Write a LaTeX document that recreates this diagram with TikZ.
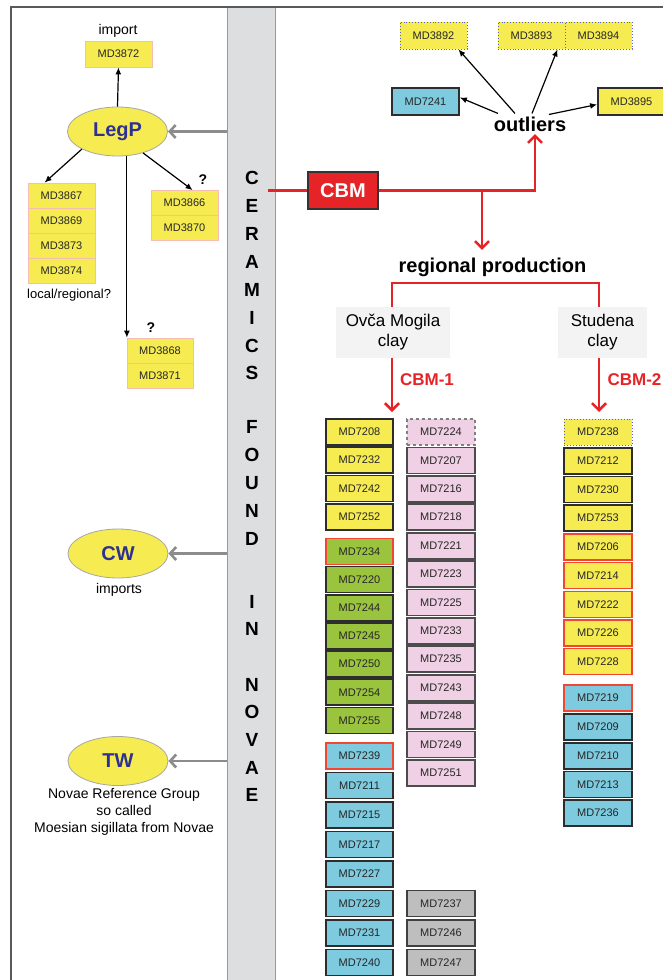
\documentclass[tikz,border=0pt]{standalone}
\usepackage{fontspec}
\setmainfont{Liberation Sans}
\usetikzlibrary{arrows.meta,shapes.geometric,calc}
\definecolor{myyellow}{RGB}{246,236,82}
\definecolor{mypink}{RGB}{240,208,228}
\definecolor{mygreen}{RGB}{155,196,62}
\definecolor{myblue}{RGB}{126,202,222}
\definecolor{mygray}{RGB}{190,190,190}
\definecolor{stripgray}{RGB}{221,222,224}
\definecolor{myred}{RGB}{230,36,40}
\definecolor{navy}{RGB}{46,49,146}
\definecolor{darkline}{RGB}{45,45,45}
\definecolor{pinkline}{RGB}{245,190,180}
\definecolor{redborder}{RGB}{240,70,50}
\definecolor{dotblue}{RGB}{90,100,200}
\definecolor{framegray}{RGB}{90,90,90}
\definecolor{arrowgray}{RGB}{140,140,140}
\definecolor{clayfill}{RGB}{243,243,243}
\begin{document}
\begin{tikzpicture}[x=1pt,y=-1pt]
\tikzset{
  md/.style={rectangle, minimum width=67pt, minimum height=26pt, inner sep=0pt,
    font=\fontsize{11}{13}\selectfont, text=black!85},
  ybox/.style={md, fill=myyellow},
  gbox/.style={md, fill=mygreen},
  bbox/.style={md, fill=myblue},
  pbox/.style={md, fill=mypink, minimum width=68pt, draw=black!70, line width=1.8pt},
  graybox/.style={md, fill=mygray, minimum width=68pt, draw=black!75, line width=1.8pt},
  dk/.style={draw=darkline, line width=1.8pt},
  rb/.style={draw=redborder, line width=1.4pt},
  pk/.style={draw=pinkline, line width=0.8pt},
  dotb/.style={draw=dotblue, dotted, line width=0.9pt},
  dsh/.style={draw=gray, dashed, line width=1.2pt},
  ell/.style={ellipse, fill=myyellow, draw=gray!70, line width=0.8pt,
    minimum width=100pt, minimum height=49pt, inner sep=0pt,
    font=\bfseries\fontsize{20}{22}\selectfont, text=navy},
  stripletter/.style={inner sep=0pt, font=\bfseries\fontsize{19}{20}\selectfont},
  lbl/.style={inner sep=0pt, font=\fontsize{14}{17}\selectfont, align=center},
  qm/.style={inner sep=0pt, font=\bfseries\fontsize{14}{16}\selectfont},
  blkarr/.style={draw=black, line width=1.2pt, -{Latex[length=7pt,width=6pt]}},
  grayarr/.style={draw=arrowgray, line width=2.6pt, -{Straight Barb[length=6pt,width=13pt]}},
  redl/.style={draw=myred, line width=2.6pt},
  redarr/.style={redl, -{Straight Barb[length=7pt,width=14pt]}},
  clay/.style={rectangle, fill=clayfill, minimum width=114pt, minimum height=51pt,
    inner sep=0pt, align=center, font=\fontsize{17}{20}\selectfont},
  cbmlab/.style={inner sep=0pt, text=myred, font=\bfseries\fontsize{17}{19}\selectfont},
}
\useasboundingbox (0,0) rectangle (662,980);
\fill[white] (0,0) rectangle (662,980);

% strip
\node[fill=stripgray, draw=gray!80, line width=1pt, minimum width=48pt,
  minimum height=1000pt, inner sep=0pt, anchor=north] (strip) at (251,7) {};
\foreach \l/\yy [count=\i] in {C/178,E/206,R/234,A/262,M/290,I/318,C/346,S/373,
  F/427,O/455,U/483,N/511,D/539,I/602,N/629,N/685,O/712,V/740,A/768,E/795}
  \node[stripletter] (L\i) at (252,\yy) {\l};

% frame
\draw[framegray, line width=1.5pt] (11,7) rectangle (720,1020);

% LegP group
\node[lbl] (imp) at (118,31) {import};
\node[ybox,pk] (b3872) at (118.5,54) {MD3872};
\node[ell] (legp) at (117.5,131.5) {LegP};
\node[ybox,pk,minimum height=25pt] (b3867) at (61.5,195.5) {MD3867};
\node[ybox,pk,minimum height=25pt] (b3869) at (61.5,220.5) {MD3869};
\node[ybox,pk,minimum height=25pt] (b3873) at (61.5,245.5) {MD3873};
\node[ybox,pk,minimum height=25pt] (b3874) at (61.5,270.5) {MD3874};
\node[inner sep=0pt, anchor=west, font=\fontsize{13}{15}\selectfont] (locreg) at (27,295) {local/regional?};
\node[ybox,pk,minimum height=25pt] (b3866) at (184.5,203) {MD3866};
\node[ybox,pk,minimum height=25pt] (b3870) at (184.5,228) {MD3870};
\node[qm] (q1) at (203,180) {?};
\node[ybox,pk,minimum height=25pt,minimum width=66pt] (b3868) at (160,350.5) {MD3868};
\node[ybox,pk,minimum height=25pt,minimum width=66pt] (b3871) at (160,375.5) {MD3871};
\node[qm] (q2) at (151,328) {?};

\draw[blkarr] (legp.north) -- (b3872.south);
\draw[blkarr] (legp.south west) -- ([xshift=17pt]b3867.north west);
\draw[blkarr] (legp.-40) -- ([xshift=42pt]b3866.north west);
\draw[blkarr] (legp.-69) -- (legp.-69 |- b3868.north);
\draw[grayarr] (strip.west |- legp.east) -- (legp.east);

% CW, TW
\node[ell] (cw) at (118,553.5) {CW};
\node[lbl] (cwl) at (119,590) {imports};
\draw[grayarr] (strip.west |- cw.east) -- (cw.east);
\node[ell] (tw) at (118,761) {TW};
\node[lbl] (twl) at (124,812) {Novae Reference Group\\so called\\Moesian sigillata from Novae};
\draw[grayarr] (strip.west |- tw.east) -- (tw.east);

% outliers
\node[ybox,dotb,minimum height=27pt] (b3892) at (433.5,35.5) {MD3892};
\node[ybox,dotb,minimum height=27pt] (b3893) at (531.5,35.5) {MD3893};
\node[ybox,dotb,minimum height=27pt] (b3894) at (598.5,35.5) {MD3894};
\node[bbox,dk,minimum height=27pt] (b7241) at (425.5,101.5) {MD7241};
\node[ybox,dk,minimum height=27pt] (b3895) at (631.5,101.5) {MD3895};
\node[inner sep=0pt, font=\bfseries\fontsize{20}{22}\selectfont] (outl) at (530,124) {outliers};
\draw[blkarr] ([xshift=-15pt,yshift=3pt]outl.north) -- ([xshift=-9pt]b3892.south east);
\draw[blkarr] ([xshift=2pt,yshift=3pt]outl.north) -- ([xshift=-8pt]b3893.south east);
\draw[blkarr] ([xshift=-32pt,yshift=3pt]outl.north) -- ([yshift=4pt]b7241.east);
\draw[blkarr] ([xshift=19pt,yshift=2pt]outl.north) -- ([yshift=-3pt]b3895.west);

% CBM
\coordinate (cstart) at (268,190.5);
\node[rectangle, fill=myred, draw=black!80, line width=1.2pt, minimum width=70pt,
  minimum height=37pt, inner sep=0pt, text=white,
  font=\bfseries\fontsize{20}{22}\selectfont] (cbm) at (343,190.5) {CBM};
\draw[redl] (cstart) -- (cbm.west);
\draw[redarr] (cbm.east) -| ([xshift=5pt,yshift=-2.5pt]outl.south);
\coordinate (jn) at (482,190.5);
\node[inner sep=0pt, font=\bfseries\fontsize{20}{22}\selectfont] (regp) at (492.5,267.5) {regional production};
\draw[redarr] (jn) -- ($(regp.north -| jn)+(0,-8)$);

\node[clay] (ovca) at (393,332.5) {Ovča Mogila\\clay};
\node[clay, minimum width=89pt] (stud) at (602.5,332.5) {Studena\\clay};
\draw[redl] ([xshift=-1pt]ovca.north) -- ++(0,-24) -| ([xshift=-3.5pt]stud.north);
\coordinate (t1) at (392,412);
\coordinate (t2) at (599,412);
\draw[redarr] ([xshift=-1pt]ovca.south) -- (t1);
\draw[redarr] ([xshift=-3.5pt]stud.south) -- (t2);
\node[cbmlab] (cbm1) at (427,380) {CBM-1};
\node[cbmlab] (cbm2) at (634.5,380) {CBM-2};

% column A
\foreach \n/\yy in {7208/432,7232/460.2,7242/488.4,7252/516.6}
  \node[ybox,dk] (b\n) at (359.5,\yy) {MD\n};
\node[gbox,rb] (b7234) at (359.5,551.3) {MD7234};
\foreach \n/\yy in {7220/579.5,7244/607.7,7245/635.9,7250/664.1,7254/692.3,7255/720.5}
  \node[gbox,dk] (b\n) at (359.5,\yy) {MD\n};
\node[bbox,rb] (b7239) at (359.5,756) {MD7239};
\foreach \n/\yy in {7211/785.5,7215/815,7217/844.5,7227/874,7229/903.5,7231/933,7240/962.5}
  \node[bbox,dk] (b\n) at (359.5,\yy) {MD\n};

% column B
\node[md, fill=mypink, minimum width=68pt, dsh] (b7224) at (441,432) {MD7224};
\foreach \n/\yy in {7207/460.4,7216/488.8,7218/517.2,7221/545.6,7223/574,7225/602.4,
  7233/630.8,7235/659.2,7243/687.6,7248/716,7249/744.4,7251/772.8}
  \node[pbox] (b\n) at (441,\yy) {MD\n};
\foreach \n/\yy in {7237/903.5,7246/933,7247/962.5}
  \node[graybox] (b\n) at (441,\yy) {MD\n};

% column C
\node[ybox,dotb,minimum width=68pt] (b7238) at (598,432) {MD7238};
\foreach \n/\yy in {7212/460.7,7230/489.4,7253/518.1}
  \node[ybox,dk,minimum width=68pt] (b\n) at (598,\yy) {MD\n};
\foreach \n/\yy in {7206/546.8,7214/575.5,7222/604.2,7226/632.9,7228/661.6}
  \node[ybox,rb,minimum width=68pt] (b\n) at (598,\yy) {MD\n};
\node[bbox,rb,minimum width=68pt] (b7219) at (598,698) {MD7219};
\foreach \n/\yy in {7209/726.8,7210/755.6,7213/784.4,7236/813.2}
  \node[bbox,dk,minimum width=68pt] (b\n) at (598,\yy) {MD\n};
\end{tikzpicture}
\end{document}
